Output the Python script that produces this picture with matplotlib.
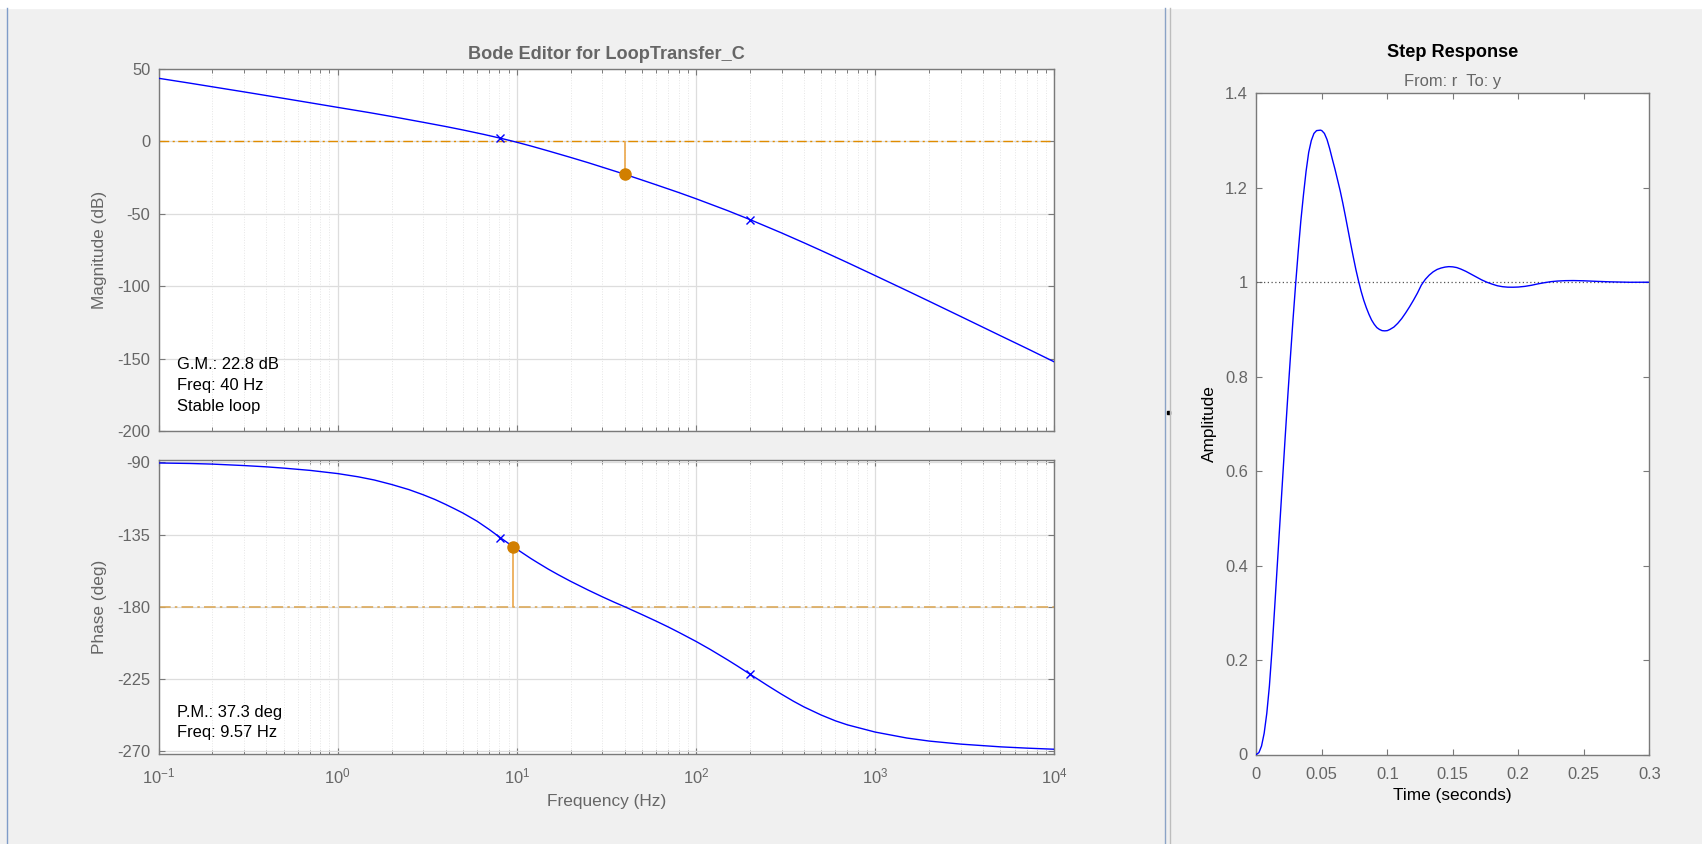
import matplotlib
matplotlib.use("Agg")
import matplotlib.pyplot as plt
from matplotlib.patches import Rectangle
from matplotlib.lines import Line2D
from matplotlib.ticker import LogLocator, NullFormatter

# ---- data ----
# Bode magnitude of the open loop
mag_freq = [0.1, 0.15, 0.2, 0.3, 0.5, 0.7, 1, 1.5, 2, 3, 4, 5, 6.5, 8.1, 9.57, 10,
            12, 15, 20, 25, 30, 40, 50, 60, 80, 100, 150, 200, 300, 400, 500, 700,
            1000, 1500, 2000, 3000, 5000, 7000, 10000]
mag_db = [43.6, 40.2, 37.7, 34.2, 29.7, 26.7, 23.5, 19.9, 17.2, 13.2, 10.3, 7.9,
          4.9, 2.2, 0.0, -0.6, -3.2, -6.6, -11.1, -14.7, -17.8, -22.7, -26.7,
          -30.0, -35.3, -39.6, -47.8, -54.0, -63.2, -70.0, -75.4, -83.7, -92.7,
          -103.0, -110.4, -120.9, -134.2, -142.9, -152.3]

# Bode phase of the open loop
phase_freq = [0.1, 0.15, 0.2, 0.3, 0.4, 0.5, 0.7, 1.0, 1.3, 1.6, 2.0, 2.5, 3.0,
              3.5, 4.0, 4.5, 5.0, 6.0, 7.0, 8.1, 9.57, 11, 12, 13, 15, 17, 20, 25,
              30, 35, 40, 50, 60, 70, 80, 100, 120, 150, 170, 200, 250, 300, 350,
              400, 500, 600, 700, 1000, 1500, 2000, 3000, 5000, 7000, 10000]
phase_deg = [-90.4, -90.7, -91.1, -92.0, -92.8, -93.6, -95.0, -97.0, -99.0,
             -101.0, -103.8, -107.0, -110.2, -113.2, -116.2, -119.0, -121.6,
             -126.7, -131.8, -137.0, -142.7, -147.2, -150.0, -152.4, -156.6,
             -160.0, -164.2, -169.6, -173.8, -177.2, -180.0, -184.9, -189.0,
             -192.6, -195.9, -201.6, -206.6, -213.1, -216.9, -222.0, -229.0,
             -234.5, -238.9, -242.4, -247.5, -251.1, -253.6, -258.1, -261.8,
             -263.7, -265.6, -267.3, -268.1, -268.8]

# compensator pole/zero markers
pz_freq = [8.1, 200]
pz_mag = [2.2, -54.0]
pz_phase = [-137.0, -222.0]

# margins
gm_freq, gm_db = 40, -22.8
pm_freq, pm_phase = 9.57, -142.7
gm_text = ["G.M.: 22.8 dB", "Freq: 40 Hz", "Stable loop"]
pm_text = ["P.M.: 37.3 deg", "Freq: 9.57 Hz"]

# closed loop step response
step_t = [0, 0.002, 0.004, 0.006, 0.008, 0.010, 0.012, 0.014, 0.016, 0.018, 0.020,
          0.022, 0.024, 0.026, 0.028, 0.030, 0.032, 0.034, 0.036, 0.038, 0.040,
          0.042, 0.044, 0.046, 0.049, 0.050, 0.052, 0.054, 0.056, 0.058, 0.060,
          0.062, 0.064, 0.066, 0.068, 0.070, 0.072, 0.074, 0.076, 0.078, 0.080,
          0.082, 0.084, 0.086, 0.088, 0.090, 0.092, 0.094, 0.096, 0.098, 0.100,
          0.102, 0.105, 0.108, 0.111, 0.114, 0.117, 0.120, 0.123, 0.126, 0.129,
          0.132, 0.135, 0.138, 0.141, 0.144, 0.147, 0.150, 0.153, 0.156, 0.160,
          0.164, 0.168, 0.172, 0.176, 0.180, 0.184, 0.188, 0.192, 0.196, 0.200,
          0.205, 0.210, 0.215, 0.220, 0.225, 0.230, 0.236, 0.242, 0.250, 0.260,
          0.270, 0.285, 0.300]
step_y = [0, 0.004, 0.018, 0.045, 0.087, 0.145, 0.222, 0.310, 0.400, 0.490, 0.580,
          0.670, 0.757, 0.840, 0.920, 0.995, 1.065, 1.130, 1.185, 1.235, 1.275,
          1.300, 1.315, 1.321, 1.322, 1.321, 1.315, 1.302, 1.283, 1.261, 1.240,
          1.217, 1.194, 1.168, 1.140, 1.111, 1.082, 1.054, 1.027, 1.003, 0.981,
          0.962, 0.946, 0.932, 0.920, 0.911, 0.904, 0.900, 0.8975, 0.897, 0.8975,
          0.900, 0.905, 0.913, 0.923, 0.935, 0.948, 0.962, 0.977, 0.994, 1.006,
          1.015, 1.022, 1.027, 1.030, 1.032, 1.033, 1.0325, 1.031, 1.028, 1.023,
          1.017, 1.011, 1.005, 1.000, 0.996, 0.9925, 0.9905, 0.9895, 0.9894, 0.9898,
          0.9912, 0.9935, 0.9965, 0.999, 1.0012, 1.0025, 1.0033, 1.0035, 1.003, 1.0018,
          1.0008, 0.9999, 1.0]

freq_ticks = [0.1, 1, 10, 100, 1000, 10000]
freq_labels = [r"$\mathregular{10^{-1}}$", r"$\mathregular{10^{0}}$", r"$\mathregular{10^{1}}$",
               r"$\mathregular{10^{2}}$", r"$\mathregular{10^{3}}$", r"$\mathregular{10^{4}}$"]
mag_ticks = [-200, -150, -100, -50, 0, 50]
phase_ticks = [-270, -225, -180, -135, -90]
time_ticks = [0, 0.05, 0.1, 0.15, 0.2, 0.25, 0.3]
time_labels = ["0", "0.05", "0.1", "0.15", "0.2", "0.25", "0.3"]
amp_ticks = [0, 0.2, 0.4, 0.6, 0.8, 1.0, 1.2, 1.4]
amp_labels = ["0", "0.2", "0.4", "0.6", "0.8", "1", "1.2", "1.4"]

plt.rcParams["font.family"] = ["Liberation Sans", "DejaVu Sans"]
plt.rcParams["axes.unicode_minus"] = False

W, H = 1702, 844
BLUE = "#0000ff"
GRAY = "#666666"
SPINE = "#7a7a7a"
TICK_FS = 11.9
LABEL_FS = 12.4
TITLE_FS = 13.1


def px_box(left, top, right, bottom):
    return [left / W, 1 - bottom / H, (right - left) / W, (bottom - top) / H]


fig = plt.figure(figsize=(W / 100, H / 100), dpi=100, facecolor="#f0f0f0")

# window chrome
fig.patches.append(Rectangle((0, 1 - 8 / H), 1, 8 / H, transform=fig.transFigure,
                             color="white", zorder=0))
fig.lines.append(Line2D([6.7 / W] * 2, [0, 1 - 8 / H], transform=fig.transFigure,
                        color="#7f9cc8", lw=1))
fig.lines.append(Line2D([1165 / W] * 2, [0, 1 - 8 / H], transform=fig.transFigure,
                        color="#8aa3c6", lw=1))
fig.lines.append(Line2D([1170 / W] * 2, [0, 1 - 8 / H], transform=fig.transFigure,
                        color="#bdbdbd", lw=1))
fig.patches.append(Rectangle((1167 / W, 1 - 414 / H), 3 / W, 3 / H,
                             transform=fig.transFigure, color="black"))


def style_bode(ax):
    ax.set_facecolor("white")
    ax.set_xscale("log")
    ax.set_xlim(0.1, 10000)
    ax.xaxis.set_minor_locator(LogLocator(base=10, subs=range(2, 10), numticks=20))
    ax.xaxis.set_minor_formatter(NullFormatter())
    ax.set_axisbelow(True)
    ax.grid(True, which="major", color="#dddddd", lw=0.9, ls="-")
    ax.grid(True, which="minor", axis="x", color="#e6e6e6", lw=0.7, ls=":")
    ax.tick_params(which="both", direction="in", top=True, right=True,
                   colors=SPINE, labelcolor=GRAY, labelsize=TICK_FS)
    ax.tick_params(which="major", length=4.5, width=0.8)
    ax.tick_params(which="minor", length=2.8, width=0.7)
    ax.tick_params(axis="y", pad=6)
    ax.tick_params(axis="x", pad=9)
    for s in ax.spines.values():
        s.set_color(SPINE)
        s.set_linewidth(1.0)


# ---- magnitude ----
ax_mag = fig.add_axes(px_box(158.5, 69, 1054.4, 431))
style_bode(ax_mag)
ax_mag.plot(mag_freq, mag_db, color=BLUE, lw=1.0, zorder=3)
ax_mag.axhline(0, color="#e08c00", lw=1.0, dashes=(7, 2.5, 1.5, 2.5), zorder=2)
ax_mag.vlines(gm_freq, gm_db, 0, color="#eba74a", lw=1.2, zorder=2)
ax_mag.plot(gm_freq, gm_db, "o", color="#d17f00", ms=8, zorder=4)
ax_mag.plot(pz_freq, pz_mag, "x", color=BLUE, ms=6, mew=1.0, zorder=4)
ax_mag.set_ylim(-200, 50)
ax_mag.set_yticks(mag_ticks)
ax_mag.set_xticks(freq_ticks)
ax_mag.set_xticklabels([])
ax_mag.text(-0.0653, 0.5, "Magnitude (dB)", transform=ax_mag.transAxes, rotation=90,
            ha="center", va="center", color=GRAY, fontsize=LABEL_FS)
ax_mag.text(0.5, 1.0268, "Bode Editor for LoopTransfer_C", transform=ax_mag.transAxes,
            ha="center", va="baseline", color=GRAY, fontsize=TITLE_FS, fontweight="bold")
for txt, yy in zip(gm_text, [0.185, 0.1257, 0.0671]):
    ax_mag.text(0.0203, yy, txt, transform=ax_mag.transAxes, ha="left", va="center",
                color="black", fontsize=TICK_FS)

# ---- phase ----
ax_ph = fig.add_axes(px_box(158.5, 459.7, 1054.4, 753.5))
style_bode(ax_ph)
ax_ph.plot(phase_freq, phase_deg, color=BLUE, lw=1.0, zorder=3)
ax_ph.axhline(-180, color="#dba95a", lw=1.2, dashes=(7, 2.5, 1.5, 2.5), zorder=2)
ax_ph.vlines(pm_freq, -180, pm_phase, color="#eba74a", lw=1.2, zorder=2)
ax_ph.plot(pm_freq, pm_phase, "o", color="#d17f00", ms=8, zorder=4)
ax_ph.plot(pz_freq, pz_phase, "x", color=BLUE, ms=6, mew=1.0, zorder=4)
ax_ph.set_ylim(-271.45, -88.35)
ax_ph.set_yticks(phase_ticks)
ax_ph.set_xticks(freq_ticks)
ax_ph.set_xticklabels(freq_labels)
ax_ph.text(-0.0653, 0.5, "Phase (deg)", transform=ax_ph.transAxes, rotation=90,
           ha="center", va="center", color=GRAY, fontsize=LABEL_FS)
ax_ph.text(0.5, -0.165, "Frequency (Hz)", transform=ax_ph.transAxes,
           ha="center", va="center", color=GRAY, fontsize=LABEL_FS)
for txt, yy in zip(pm_text, [0.1397, 0.0698]):
    ax_ph.text(0.0203, yy, txt, transform=ax_ph.transAxes, ha="left", va="center",
               color="black", fontsize=TICK_FS)

# ---- step response ----
ax_st = fig.add_axes(px_box(1256.3, 93.3, 1649.3, 754.5))
ax_st.set_facecolor("white")
ax_st.plot(step_t, step_y, color=BLUE, lw=1.0, zorder=3)
ax_st.axhline(1.0, color="#555555", lw=0.9, ls=(0, (1, 2)), zorder=2)
ax_st.set_xlim(0, 0.3)
ax_st.set_ylim(0, 1.4)
ax_st.set_xticks(time_ticks)
ax_st.set_xticklabels(time_labels)
ax_st.set_yticks(amp_ticks)
ax_st.set_yticklabels(amp_labels)
ax_st.tick_params(direction="in", top=True, right=True, colors=SPINE, labelcolor=GRAY,
                  labelsize=TICK_FS, length=4.5, width=0.8)
ax_st.tick_params(axis="x", pad=9)
ax_st.tick_params(axis="y", pad=6)
for s in ax_st.spines.values():
    s.set_color(SPINE)
    s.set_linewidth(1.0)
ax_st.text(0.5, 1.0544, "Step Response", transform=ax_st.transAxes, ha="center",
           va="baseline", color="black", fontsize=TITLE_FS, fontweight="bold")
ax_st.text(0.5, 1.0115, "From: r  To: y", transform=ax_st.transAxes, ha="center",
           va="baseline", color=GRAY, fontsize=TICK_FS)
ax_st.text(-0.118, 0.5, "Amplitude", transform=ax_st.transAxes, rotation=90,
           ha="center", va="center", color="black", fontsize=LABEL_FS)
ax_st.text(0.5, -0.0613, "Time (seconds)", transform=ax_st.transAxes,
           ha="center", va="center", color="black", fontsize=LABEL_FS)

fig.savefig("out.png", dpi=100, facecolor=fig.get_facecolor())
